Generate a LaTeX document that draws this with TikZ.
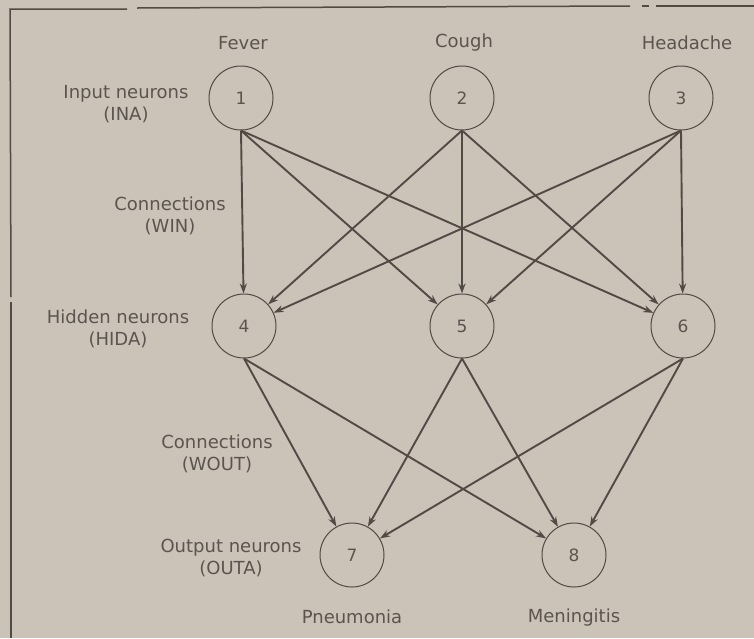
\documentclass[tikz,border=0pt]{standalone}
\usepackage{fontspec}
\setmainfont{DejaVu Sans}
\usetikzlibrary{arrows.meta}
\definecolor{paper}{RGB}{203,195,184}
\definecolor{ink}{RGB}{82,74,68}
\definecolor{txt}{RGB}{92,85,79}
\begin{document}
\begin{tikzpicture}[x=1pt,y=-1pt,
  neuron/.style={circle,draw=ink,line width=1pt,minimum size=64pt,inner sep=0pt,
    font=\fontsize{17}{20}\selectfont,text=txt},
  lbl/.style={font=\fontsize{18}{22}\selectfont,text=txt,align=center,inner sep=0pt},
  conn/.style={draw=ink,line width=1.9pt,-{Stealth[length=10pt,width=7pt]}},
  frame/.style={draw=ink,line width=1.5pt}]
\fill[paper] (0,0) rectangle (754,638);
\useasboundingbox (0,0) rectangle (754,638);
% frame fragments
\coordinate (f1) at (10,9);
\coordinate (f2) at (127,9);
\coordinate (f3) at (137,8);
\coordinate (f4) at (630,6);
\coordinate (f5) at (642,6);
\coordinate (f6) at (649,6);
\coordinate (f7) at (656,6);
\coordinate (f8) at (754,6);
\coordinate (g1) at (11,297);
\coordinate (g2) at (11,302);
\coordinate (g3) at (11,638);
\draw[frame] (f2) -- (f1) -- (g1);
\draw[frame] (g2) -- (g3);
\draw[frame] (f3) -- (f4);
\draw[frame] (f5) -- (f6);
\draw[frame] (f7) -- (f8);
% neurons
\node[neuron] (n1) at (241,98) {1};
\node[neuron] (n2) at (462,98) {2};
\node[neuron] (n3) at (681,98) {3};
\node[neuron] (h4) at (244,326) {4};
\node[neuron] (h5) at (462,326) {5};
\node[neuron] (h6) at (683,326) {6};
\node[neuron] (o7) at (352,555) {7};
\node[neuron] (o8) at (574,555) {8};
% labels
\node[lbl] (tf) at (243,43) {Fever};
\node[lbl] (tc) at (464,43) {Cough};
\node[lbl] (th) at (687,43) {Headache};
\node[lbl] (tin) at (126,104) {Input neurons\\(INA)};
\node[lbl] (twin) at (170,216) {Connections\\(WIN)};
\node[lbl] (thid) at (118,329) {Hidden neurons\\(HIDA)};
\node[lbl] (twout) at (217,454) {Connections\\(WOUT)};
\node[lbl] (tout) at (231,558) {Output neurons\\(OUTA)};
\node[lbl] (tp) at (352,617) {Pneumonia};
\node[lbl] (tm) at (574,618) {Meningitis};
% input -> hidden
\foreach \i in {n1,n2,n3}{
  \foreach \h in {h4,h5,h6}{
    \draw[conn] (\i.south) -- (\h);
  }
}
% hidden -> output
\foreach \h in {h4,h5,h6}{
  \foreach \o in {o7,o8}{
    \draw[conn] (\h.south) -- (\o);
  }
}
\end{tikzpicture}
\end{document}
